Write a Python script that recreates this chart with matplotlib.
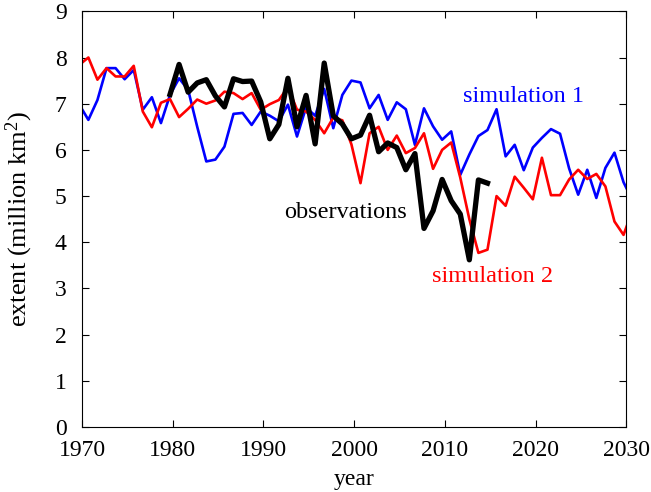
import numpy as np
import matplotlib
matplotlib.use('Agg')
import matplotlib.pyplot as plt

plt.rcParams['font.family'] = ['Liberation Serif', 'DejaVu Serif']
plt.rcParams['mathtext.fontset'] = 'custom'
plt.rcParams['mathtext.rm'] = 'Liberation Serif'
plt.rcParams['mathtext.default'] = 'regular'

# September values, plotted at year + 0.7
sim_years = np.arange(1969, 2031)
sim1 = [6.98, 6.65, 7.08, 7.77, 7.77, 7.53, 7.73, 6.87, 7.14, 6.58,
        7.19, 7.55, 7.30, 6.50, 5.75, 5.79, 6.07, 6.78, 6.80, 6.54,
        6.83, 6.74, 6.62, 6.98, 6.29, 6.92, 6.74, 7.32, 6.47, 7.19,
        7.50, 7.46, 6.90, 7.19, 6.65, 7.03, 6.88, 6.11, 6.90, 6.51,
        6.22, 6.40, 5.46, 5.90, 6.30, 6.43, 6.88, 5.86, 6.11, 5.56,
        6.05, 6.26, 6.45, 6.35, 5.60, 5.03, 5.57, 4.96, 5.61, 5.94,
        5.30, 4.90]
sim2 = [7.84, 8.00, 7.52, 7.77, 7.59, 7.59, 7.82, 6.83, 6.49, 7.02,
        7.10, 6.71, 6.89, 7.09, 7.00, 7.07, 7.26, 7.23, 7.10, 7.23,
        6.87, 6.99, 7.08, 7.36, 6.87, 6.83, 6.65, 6.36, 6.70, 6.64,
        6.12, 5.28, 6.36, 6.50, 6.00, 6.31, 5.93, 6.04, 6.36, 5.59,
        6.00, 6.16, 5.40, 4.50, 3.77, 3.84, 5.00, 4.79, 5.42, 5.18,
        4.93, 5.83, 5.02, 5.02, 5.36, 5.57, 5.37, 5.48, 5.21, 4.45,
        4.16, 4.70]
obs_years = np.arange(1979, 2015)
obs = [7.20, 7.85, 7.25, 7.45, 7.52, 7.17, 6.93, 7.54, 7.48, 7.49,
       7.04, 6.24, 6.55, 7.55, 6.50, 7.18, 6.13, 7.88, 6.74, 6.56,
       6.24, 6.32, 6.75, 5.96, 6.15, 6.05, 5.57, 5.92, 4.30, 4.68,
       5.36, 4.90, 4.61, 3.62, 5.35, 5.28]

fig = plt.figure(figsize=(6.51, 4.92), dpi=100)
ax = fig.add_axes([0.126, 0.132, 0.836, 0.845])

ax.plot(sim_years + 0.7, sim1, color='#0000ff', lw=1.9)
ax.plot(sim_years + 0.7, sim2, color='#ff0000', lw=1.9)
ax.plot(obs_years + 0.7, obs, color='black', lw=3.8)

ax.set_xlim(1970, 2030)
ax.set_ylim(0, 9)
ax.set_xticks(np.arange(1970, 2031, 10))
ax.set_yticks(np.arange(0, 10, 1))
ax.tick_params(direction='in', top=True, right=True, length=5, labelsize=17)
ax.tick_params(axis='x', pad=9)
ax.tick_params(axis='y', pad=11)

ax.set_xlabel('year', fontsize=17, labelpad=6)
ax.set_ylabel('extent (million km$^2$)', fontsize=19, labelpad=14)

ax.text(2018.7, 7.15, 'simulation 1', color='#0000ff', fontsize=17.5,
        ha='center', va='center')
ax.text(2015.3, 3.25, 'simulation 2', color='#ff0000', fontsize=17.5,
        ha='center', va='center')
ax.text(1999.1, 4.64, 'observations', color='black', fontsize=17.5,
        ha='center', va='center')

fig.savefig('out.png', dpi=100)
